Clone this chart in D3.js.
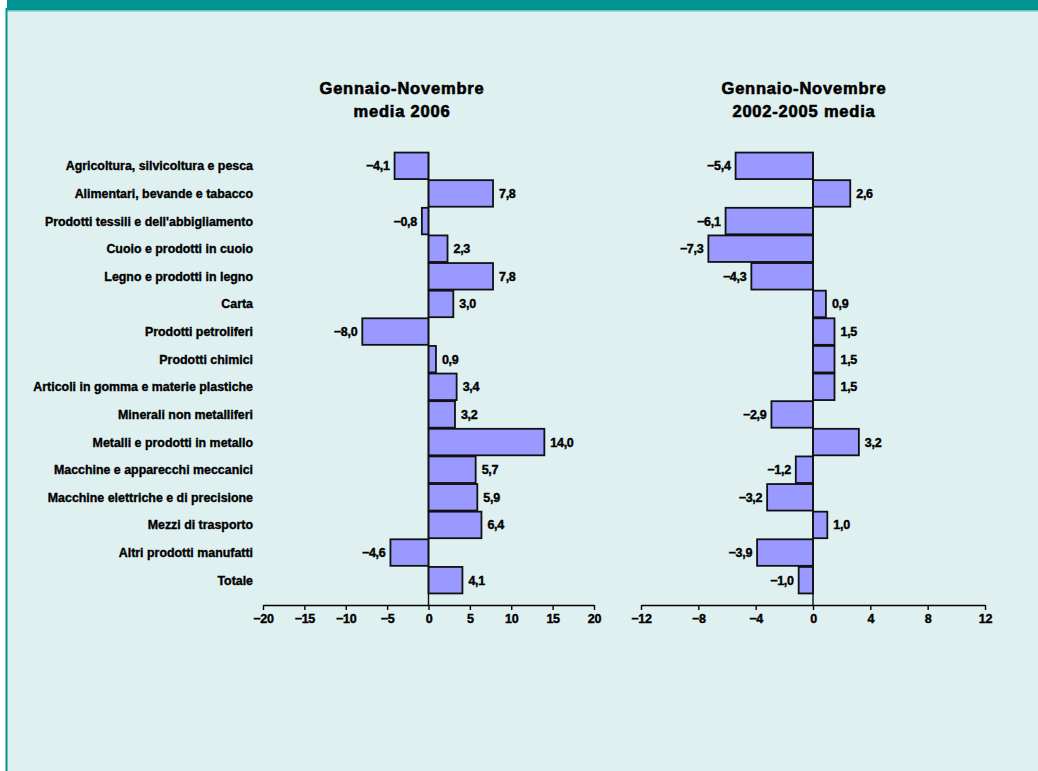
<!DOCTYPE html>
<html>
<head>
<meta charset="utf-8">
<script src="https://cdn.jsdelivr.net/npm/d3@7"></script>
<style>
html,body{margin:0;padding:0;background:#fff;}
svg{display:block;}
text{font-family:"Liberation Sans",Arial,sans-serif;font-weight:bold;fill:#000;}
</style>
</head>
<body>
<svg id="chart" width="1038" height="771"></svg>
<script>
const categories = [
  "Agricoltura, silvicoltura e pesca",
  "Alimentari, bevande e tabacco",
  "Prodotti tessili e dell'abbigliamento",
  "Cuoio e prodotti in cuoio",
  "Legno e prodotti in legno",
  "Carta",
  "Prodotti petroliferi",
  "Prodotti chimici",
  "Articoli in gomma e materie plastiche",
  "Minerali non metalliferi",
  "Metalli e prodotti in metallo",
  "Macchine e apparecchi meccanici",
  "Macchine elettriche e di precisione",
  "Mezzi di trasporto",
  "Altri prodotti manufatti",
  "Totale"
];
const values2006 = [-4.1, 7.8, -0.8, 2.3, 7.8, 3.0, -8.0, 0.9, 3.4, 3.2, 14.0, 5.7, 5.9, 6.4, -4.6, 4.1];
const values2002_2005 = [-5.4, 2.6, -6.1, -7.3, -4.3, 0.9, 1.5, 1.5, 1.5, -2.9, 3.2, -1.2, -3.2, 1.0, -3.9, -1.0];
const ticks2006 = [-20, -15, -10, -5, 0, 5, 10, 15, 20];
const ticks2002_2005 = [-12, -8, -4, 0, 4, 8, 12];
const titles2006 = ["Gennaio-Novembre", "media 2006"];
const titles2002_2005 = ["Gennaio-Novembre", "2002-2005 media"];

const svg = d3.select("#chart");
const teal = "#009490";

// background frame
svg.append("rect").attr("x", 0).attr("y", 0).attr("width", 1038).attr("height", 771).attr("fill", "#fff");
svg.append("rect").attr("x", 7).attr("y", 10).attr("width", 1031).attr("height", 761).attr("fill", "#dff0f0");
svg.append("rect").attr("x", 7).attr("y", 0).attr("width", 1031).attr("height", 10).attr("fill", teal);
svg.append("rect").attr("x", 7).attr("y", 10).attr("width", 1031).attr("height", 1.5).attr("fill", "#6cc4bd");
svg.append("rect").attr("x", 5.5).attr("y", 8).attr("width", 2).attr("height", 763).attr("fill", teal);

const y = d3.scaleBand().domain(categories).range([152, 594]).paddingInner(0.04).paddingOuter(0.02);
const fmt = v => d3.format(".1f")(v).replace(".", ",").replace("-", "\u2212");

function heavy(sel, w) {
  return sel.attr("stroke", "#000").attr("stroke-width", w).attr("paint-order", "stroke");
}

function drawPanel(values, ticks, x0, x1, titles, titleX, withLabels) {
  const x = d3.scaleLinear().domain([ticks[0], ticks[ticks.length - 1]]).range([x0, x1]);
  const g = svg.append("g");

  heavy(g.selectAll("text.title").data(titles).enter().append("text")
    .attr("class", "title")
    .attr("x", titleX).attr("y", (d, i) => 94 + i * 23)
    .attr("text-anchor", "middle")
    .attr("font-size", 16.5)
    .attr("letter-spacing", 0.8)
    .text(d => d), 0.6);

  const data = categories.map((c, i) => ({c, v: values[i]}));

  g.selectAll("rect.bar").data(data).enter().append("rect")
    .attr("class", "bar")
    .attr("x", d => x(Math.min(0, d.v)))
    .attr("y", d => y(d.c))
    .attr("width", d => Math.abs(x(d.v) - x(0)))
    .attr("height", y.bandwidth())
    .attr("fill", "#9999ff")
    .attr("stroke", "#111")
    .attr("stroke-width", 1.8);

  g.append("line")
    .attr("x1", x(0)).attr("x2", x(0))
    .attr("y1", 152).attr("y2", 605)
    .attr("stroke", "#111").attr("stroke-width", 1.4);

  heavy(g.selectAll("text.val").data(data).enter().append("text")
    .attr("class", "val")
    .attr("x", d => d.v >= 0 ? x(d.v) + 6 : x(d.v) - 5)
    .attr("y", d => y(d.c) + y.bandwidth() / 2 + 4.5)
    .attr("text-anchor", d => d.v >= 0 ? "start" : "end")
    .attr("font-size", 12.5)
    .attr("letter-spacing", -0.3)
    .text(d => fmt(d.v)), 0.4);

  const axis = d3.axisBottom(x).tickValues(ticks).tickSize(5).tickSizeOuter(0)
    .tickFormat(d => String(d).replace("-", "\u2212"));
  const ag = g.append("g").attr("transform", "translate(0,605)").call(axis);
  ag.select(".domain").attr("stroke", "#000").attr("stroke-width", 1.4);
  ag.selectAll(".tick line").attr("stroke", "#000").attr("stroke-width", 1.4);
  heavy(ag.selectAll(".tick text")
    .attr("font-family", "Liberation Sans, Arial, sans-serif")
    .attr("font-weight", "bold")
    .attr("font-size", 12.5)
    .attr("letter-spacing", -0.3)
    .attr("fill", "#000")
    .attr("y", 9), 0.4);

  if (withLabels) {
    heavy(g.selectAll("text.cat").data(categories).enter().append("text")
      .attr("class", "cat")
      .attr("x", 253)
      .attr("y", d => y(d) + y.bandwidth() / 2 + 4.5)
      .attr("text-anchor", "end")
      .attr("font-size", 12.4)
      .attr("letter-spacing", 0)
      .text(d => d), 0.35);
  }
}

drawPanel(values2006, ticks2006, 263, 594, titles2006, 402, true);
drawPanel(values2002_2005, ticks2002_2005, 641, 985, titles2002_2005, 804, false);
</script>
</body>
</html>
